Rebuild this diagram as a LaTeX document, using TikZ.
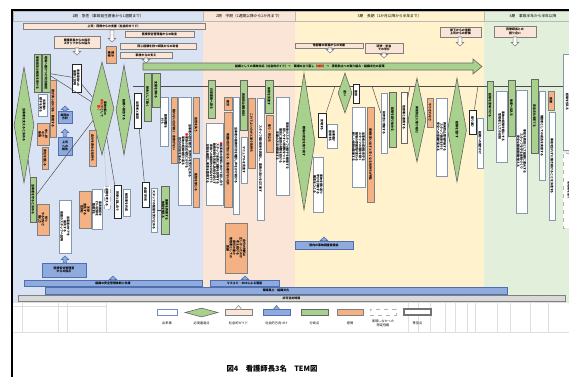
\documentclass[tikz,border=0pt]{standalone}
\usepackage{fontspec}
\setmainfont{Noto Sans CJK JP}
\usetikzlibrary{shapes.geometric}
\definecolor{bgA}{HTML}{DAE3F3}
\definecolor{bgB}{HTML}{FBE5D6}
\definecolor{bgC}{HTML}{FFF2CC}
\definecolor{bgD}{HTML}{E2EFDA}
\definecolor{grn}{HTML}{A9D18E}
\definecolor{org}{HTML}{F4B183}
\definecolor{sgc}{HTML}{FBE5D6}
\definecolor{sdc}{HTML}{8FAADC}
\definecolor{sdb}{HTML}{4F6FAF}
\definecolor{bord}{HTML}{8497B0}
\definecolor{lgray}{HTML}{D9D9D9}
\newcommand\ftx{\fontsize{2.2}{2.5}\selectfont\bfseries}
\newcommand\fhx{\fontsize{2.8}{3.3}\selectfont}
\newcommand\bxV[7]{\node[#1, rotate=-90, minimum width={(#6-#4)*0.75pt}, minimum height={(#5-#3)*0.75pt}] (#2) at ({(#3+#5)/2},{(#4+#6)/2}) {#7};}
\newcommand\bxH[7]{\node[#1, minimum width={(#5-#3)*0.75pt}, minimum height={(#6-#4)*0.75pt}] (#2) at ({(#3+#5)/2},{(#4+#6)/2}) {#7};}
\newcommand\dmd[7]{\node[dia, rotate=-90, minimum width={(#4-#3)*0.75pt}, minimum height={2*#5*0.75pt}, shape aspect=#6] (#1) at (#2,{(#3+#4)/2}) {#7};}
\newcommand\sgA[3]{\draw[sgarr] ({#1-1.8},#2) -- ({#1+1.8},#2) -- ({#1+1.8},{#3-3.5}) -- ({#1+3.8},{#3-3.5}) -- (#1,#3) -- ({#1-3.8},{#3-3.5}) -- ({#1-1.8},{#3-3.5}) -- cycle;}
\newcommand\sdA[3]{\draw[sdarr] ({#1-1.8},#2) -- ({#1+1.8},#2) -- ({#1+1.8},{#3+3.5}) -- ({#1+3.8},{#3+3.5}) -- (#1,#3) -- ({#1-3.8},{#3+3.5}) -- ({#1-1.8},{#3+3.5}) -- cycle;}
\begin{document}
\begin{tikzpicture}[x=0.75pt,y=-0.75pt,
  box/.style={draw=bord, line width=0.45pt, inner sep=0pt, font=\ftx, align=center},
  wbox/.style={box, fill=white},
  bbox/.style={box, fill=white, draw=black!85, line width=0.7pt},
  gbox/.style={box, fill=grn, draw=gray!80!black},
  obox/.style={box, fill=org, draw=gray},
  dbox/.style={box, fill=white, draw=gray!60, dashed},
  cbox/.style={box, fill=white!60!bgC, draw=gray!80!black},
  sgbox/.style={box, fill=sgc, draw=gray},
  sdbox/.style={box, fill=sdc, draw=sdb},
  graybar/.style={box, fill=lgray, draw=gray},
  hdr/.style={box, draw=gray!55, font=\fhx},
  dia/.style={diamond, draw=gray!80!black, fill=grn, line width=0.45pt, inner sep=0pt, font=\ftx, align=center},
  conn/.style={draw=black!70, line width=0.35pt},
  sgarr/.style={draw=gray, fill=white, line width=0.4pt},
  sdarr/.style={draw=sdb, fill=sdc, line width=0.4pt},
  grid/.style={draw=gray!25, line width=0.3pt},
  lab/.style={font=\fontsize{2.4}{2.9}\selectfont, inner sep=0pt, align=center}]
\useasboundingbox (0,0) rectangle (569,376);
% phase backgrounds
\fill[bgA] (13,21) rectangle (203,302);
\fill[bgB] (203,21) rectangle (295,302);
\fill[bgC] (295,21) rectangle (484,302);
\fill[bgD] (484,21) rectangle (572,302);
% headers
\bxH{hdr, fill=bgA}{h1}{13}{11}{203}{21}{1期　急性（事故発生直後から1週間まで）}
\bxH{hdr, fill=bgB}{h2}{203}{11}{295}{21}{2期　中期（1週間以降から1か月まで）}
\bxH{hdr, fill=bgC}{h3}{295}{11}{484}{21}{3期　長期（1か月以降から半年まで）}
\bxH{hdr, fill=bgD}{h4}{484}{11}{582}{21}{4期　事故半年から半年以降}
% frame
\draw[line width=1.3pt] (12,377) -- (12,10) -- (572,10);
% time line
\coordinate (t0) at (133,86);
\coordinate (t1) at (572,86);
\draw[conn] (t0) -- (t1);
% social guidance boxes
\bxH{sgbox}{sg1}{23}{23.5}{205}{29.5}{上司・同僚からの支援（社会的ガイド）}
\sgA{112}{30}{42}
\bxH{sgbox}{sg2}{54}{36}{100}{48}{看護部長からの指示\\スタッフからの協力}
\sgA{77}{48}{55}
\bxH{sgbox}{sg3}{125}{31}{194}{37}{医療安全管理者からの助言}
\bxH{sgbox}{sg4}{120}{43}{196}{49}{同じ経験を持つ師長からの助言}
\bxH{sgbox}{sg5}{120}{52}{172}{58}{家族からの支え}
\sgA{146}{58}{63}
\bxH{sgbox}{sg6}{295}{43}{363}{48}{他部署の師長からの支援}
\sgA{330}{48}{53}
\bxH{sgbox}{sg7}{365}{43}{403}{53}{研修・学会\\での学び}
\sgA{384}{53}{58}
\bxH{sgbox}{sg8}{440}{27}{481}{37}{部下からの信頼\\上司からの評価}
\sgA{460}{37}{46}
\bxH{sgbox}{sg9}{494}{26}{536}{37}{同僚師長との\\語り合い}
\sgA{515}{37}{46}
% big green arrow
\path[draw=gray!80!black, fill=grn, line width=0.45pt] (143,63) -- (473,63) -- (473,59) -- (482,66.5) -- (473,74) -- (473,70) -- (143,70) -- cycle;
\node[font=\ftx, inner sep=0pt] (GA) at (310,66.5) {組織としての事故対応（社会的ガイド）→　職場の立て直し（{\color{red}継続}）→　再発防止への取り組み・組織文化の変革};
% diamonds
\dmd{D1}{24}{67}{183}{10}{5.8}{当事者を支えると決める}
\dmd{D2}{102}{62}{155}{12}{3.9}{事故対応の\\{\color{red}責任者}として\\{\color{red}動く}}
\dmd{D3}{124}{65}{155}{8}{5.6}{組織へ報告する}
\dmd{D4}{304}{73}{210}{11}{6.2}{職場の安全を取り戻す}
\dmd{D5}{345}{73}{113}{7}{2.9}{迷い}
\dmd{D6}{417}{78}{162}{9}{4.7}{再発防止に取り組む}
\dmd{D7}{457}{78}{182}{9.5}{5.5}{経験を活かす}
% column 1 boxes
\bxV{obox}{O0}{106}{46}{116}{63}{驚き\\衝撃}
\bxV{gbox}{a1}{34}{54}{41}{92}{事故発生の報告を受ける}
\bxV{gbox}{a2}{42}{54}{50}{92}{現場へ駆けつけ状況確認}
\bxV{obox}{a3}{50}{80}{56}{137}{頭が真っ白になる・動揺する}
\bxV{wbox}{a4}{38}{94}{47}{116}{当事者の\\様子を見る}
\bxH{sdbox}{a5}{58}{111}{72}{123}{病院の\\方針}
\sdA{65}{111}{106}
\bxV{bbox}{a6}{72}{64}{81}{92}{患者家族への\\謝罪と説明}
\bxV{obox}{a7}{37}{123}{49}{145}{申し訳\\なさ\\後悔}
\bxV{obox}{a8}{42}{147}{48}{169}{責任を感じる}
\bxH{sdbox}{a10}{58}{137}{72}{155}{上司\\への\\報告}
\sdA{65}{137}{129}
\bxV{gbox}{a11}{30}{177}{36}{222}{当事者を守ると決める}
\bxV{obox}{a12}{37}{204}{49}{235}{怒り\\やるせなさ\\悔しさ}
\bxV{wbox}{a13}{59}{200}{71}{253}{当事者のケアを\\優先する\\周囲のスタッフへ説明}
\bxH{sdbox}{a14}{42}{263}{86}{277}{医療安全管理室\\からの指示}
\sdA{65}{263}{256}
\bxV{obox}{a15}{89}{130}{96}{166}{自分を責める気持ち}
\bxV{obox}{a16}{79}{191}{91}{228}{不安\\混乱する\\気持ち}
\bxV{wbox}{a17}{92}{189}{102}{229}{事実確認を\\行い記録を\\整理する}
\bxV{dbox}{a18}{104}{186}{110}{209}{退職を考える}
\bxV{bbox}{a19}{114}{185}{121}{218}{同僚と話し合う}
\bxV{wbox}{a20}{123}{189}{130}{216}{報告書を作成}
\bxV{bbox}{a21}{142}{182}{149}{207}{会議で共有}
\bxV{wbox}{a22}{151}{188}{157}{232}{スタッフの動揺を受け止める}
\bxV{gbox}{a23}{161}{186}{169}{234}{業務を再開する\\体制を整える}
\bxV{wbox}{a24}{160}{97}{168}{146}{勤務調整を\\行う}
\bxV{obox}{a25}{171}{97}{177}{163}{眠れない日が続く・食欲がない}
\bxV{wbox}{a26}{179}{97}{191}{205}{当事者の話を聴き、気持ちを受け止める\\{\color{red}■}家族の反応を気にかける\\事故の経緯を振り返る\\自分の対応を省みる}
\bxV{obox}{a27}{193}{97}{199}{153}{自信を失う}
\bxV{obox}{a28}{193}{158}{199}{207}{孤独を感じる}
\bxV{gbox}{a29}{144}{73}{151}{121}{師長として動く}
\bxV{gbox}{a30}{152}{73}{160}{107}{支援を求める}
\bxV{bbox}{a31}{134}{93}{141}{128}{当事者と面談}
% column 2 boxes
\bxV{gbox}{b1}{208}{80}{215}{118}{日常業務へ戻る}
\bxV{obox}{b2}{224}{97}{232}{110}{疲労}
\bxV{obox}{b3}{224}{112}{232}{207}{周囲の目が気になる・落ち着かない日々}
\bxV{wbox}{b4}{206}{123}{223}{205}{{\color{red}■}当事者の復帰に向けて話し合う\\スタッフ全員に経緯を説明する\\勤務体制を見直し負担を減らす\\家族への継続的な対応を行う\\記録を確認し事実を整理する}
\bxV{wbox}{b5}{233}{97}{239}{214}{当事者の勤務状況を確認し声をかけ続ける}
\bxV{gbox}{b6}{240}{80}{247}{130}{再発防止策を検討}
\bxV{wbox}{b7}{241}{137}{247}{183}{マニュアルを見直す}
\bxV{obox}{b8}{248}{98}{255}{168}{これでよいのかと迷う気持ち}
\bxV{wbox}{b9}{257}{98}{264}{220}{スタッフ間の関係を調整し、業務の流れを立て直す}
\bxV{gbox}{b10}{265}{80}{273}{113}{体制を見直す}
\bxV{obox}{b11}{266}{115}{273}{152}{焦り・苛立ち}
\bxV{wbox}{b12}{276}{97}{289}{195}{事故後のスタッフの様子を観察する\\話しやすい雰囲気をつくる\\個別に面談の時間を設ける\\支援の方法を模索する}
\bxV{obox}{b13}{225}{223}{247}{273}{自分の判断は\\正しかったのか\\考え続ける\\責任の重さ\\管理者としての\\葛藤}
% column 3 boxes
\bxV{bbox}{c1}{318}{113}{326}{137}{安堵する}
\bxV{wbox}{c2}{327}{124}{337}{148}{当事者が\\復帰する}
\bxV{wbox}{c3}{313}{157}{323}{212}{事故を振り返り\\学びを共有する\\機会をつくる}
\bxV{bbox}{c4}{353}{84}{359}{103}{面談}
\bxV{wbox}{c5}{352}{107}{365}{187}{当事者の成長を見守る\\スタッフの意見を聴く\\職場の雰囲気が変わる\\新しい体制が定着する}
\bxV{obox}{c6}{367}{107}{374}{202}{事故を思い出すと辛くなる気持ちが残る}
\bxV{wbox}{c7}{381}{93}{387}{153}{研修会に参加する}
\bxV{gbox}{c8}{389}{92}{396}{147}{経験を語り始める}
\bxV{cbox}{c9}{401}{92}{407}{143}{他部署と連携する}
\bxV{obox}{c10}{427}{98}{433}{127}{やりきれなさ}
\bxV{wbox}{c11}{436}{98}{447}{176}{再発防止策を評価する\\スタッフ教育を行う\\安全への意識が高まる}
\bxV{bbox}{c12}{469}{110}{476}{134}{振り返り}
\bxV{wbox}{c13}{477}{118}{483}{168}{組織への働きかけ}
\bxH{sdbox}{c14}{295}{241}{353}{249}{院内の事故調査委員会}
\sdA{324}{241}{237}
% column 4 boxes
\bxV{gbox}{d1}{487}{81}{493}{130}{経験を意味づける}
\bxV{wbox}{d2}{496}{91}{507}{162}{事故の経験を糧にする\\管理者としての役割}
\bxV{gbox}{d3}{508}{80}{515}{136}{後輩へ伝える}
\bxV{wbox}{d4}{516}{90}{527}{213}{事故を教訓として組織に還元する\\スタッフを守る体制づくり\\安全な職場環境を整える}
\bxV{gbox}{d5}{531}{79}{538}{153}{安全文化を育てる}
\bxV{wbox}{d6}{539}{91}{545}{180}{管理者としての成長を実感する}
\bxV{obox}{d7}{548}{91}{554}{110}{感謝}
\bxV{wbox}{d8}{549}{112}{555}{220}{事故を忘れずに働き続けることを決意する}
\bxV{wbox}{d9}{563}{54}{575}{150}{管理者として組織の安全を守り続ける\\経験を伝える}
\bxV{dbox}{d10}{563}{153}{575}{228}{管理職を退く}
% connectors
\draw[conn] (a2) -- (D2);
\draw[conn] (a2) -- (a6);
\draw[conn] (a6) -- (D2);
\draw[conn] (a11) -- (D2);
\draw[conn] (D1) -- (a11);
\draw[conn] (D2) -- (a19);
\draw[conn, densely dotted, draw=gray] (D2) -- (a18);
\draw[conn] (a31) -- (a21);
\draw[conn] (a22) -- (a23);
\draw[conn] (a16) -- (a17);
\coordinate (p1) at (335,86);
\coordinate (p2) at (372,86);
\coordinate (p3) at (410,86);
\coordinate (p4) at (478,86);
\draw[conn] (p1) -- (c1);
\draw[conn] (p2) -- (c7);
\draw[conn] (p3) -- (c9);
\draw[conn] (p4) -- (c12);
% bottom bars
\bxH{sdbox}{bar1}{24}{280}{202}{286}{組織の安全管理体制と支援}
\sdA{113}{280}{276}
\bxH{sdbox}{b14}{210}{280}{279}{286}{マスコミ・SNSによる報道}
\sdA{245}{280}{276}
\bxH{sdbox}{bar2}{45}{287}{507}{294}{職場風土・組織文化}
\bxH{graybar}{bar3}{18}{295}{565}{301}{非可逆的時間}
% legend grid
\draw[grid] (13,302) -- (572,302);
\draw[grid] (13,332) -- (572,332);
\draw[grid] (13,306) -- (106,306);
\foreach \gx in {22,58,67,106,408,418,430,445,455,467,475,497,510,530,548}
  \draw[grid] (\gx,302) -- (\gx,332);
% legend items
\bxH{box, fill=white, draw=sdb!80, line width=0.6pt}{L1}{157}{309}{177}{315}{}
\node[lab] (L1t) at (167,323) {出来事};
\node[dia, minimum width=24.75pt, minimum height=6.75pt, shape aspect=3.7] (L2) at (201.5,312.5) {};
\node[lab] (L2t) at (201.5,323) {必須通過点};
\bxH{sgbox}{L3}{225}{309}{252}{315}{}
\draw[sgarr] (235.5,309) -- (238.5,305.5) -- (241.5,309);
\node[lab] (L3t) at (238.5,323) {社会的ガイド};
\bxH{sdbox}{L4}{263}{309}{290}{315}{}
\draw[sdarr] (273.5,309) -- (276.5,305.5) -- (279.5,309);
\node[lab] (L4t) at (276.5,323) {社会的方向づけ};
\bxH{gbox}{L5}{301}{309}{328}{315}{}
\node[lab] (L5t) at (314.5,323) {分岐点};
\bxH{obox}{L6}{337}{309}{363}{315}{}
\node[lab] (L6t) at (350,323) {感情};
\bxH{dbox}{L7}{370}{309}{396}{315}{}
\node[lab] (L7t) at (383,323.5) {実現しなかった\\想定径路};
\bxH{box, fill=white, draw=gray!90!black, line width=0.9pt}{L8}{404}{309}{431}{315}{}
\node[lab] (L8t) at (417.5,323) {等至点};
% title
\node[font=\fontsize{5.5}{6.5}\selectfont\bfseries, inner sep=0pt] (title) at (272,369) {図4　看護師長3名　TEM図};
\end{tikzpicture}
\end{document}
